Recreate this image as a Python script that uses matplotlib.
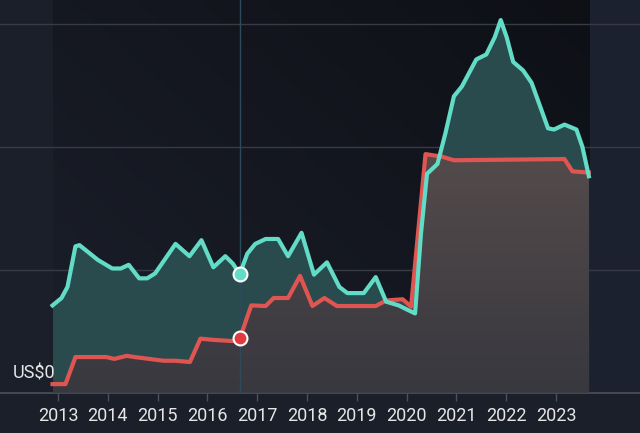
import numpy as np
import matplotlib.pyplot as plt
from matplotlib.colors import to_rgb

# teal series (upper line) - year, value
teal_x = [2012.89, 2013.07, 2013.19, 2013.35, 2013.43, 2013.80, 2014.09, 2014.26, 2014.42,
          2014.63, 2014.79, 2014.95, 2015.36, 2015.64, 2015.88, 2016.12, 2016.36, 2016.51,
          2016.65, 2016.80, 2016.96, 2017.17, 2017.42, 2017.62, 2017.89, 2018.14, 2018.40,
          2018.65, 2018.81, 2019.14, 2019.38, 2019.59, 2019.84, 2020.04, 2020.17, 2020.29,
          2020.41, 2020.62, 2020.78, 2020.95, 2021.11, 2021.40, 2021.60, 2021.77, 2021.89,
          2022.01, 2022.14, 2022.34, 2022.51, 2022.84, 2022.96, 2023.17, 2023.41, 2023.53,
          2023.66]
teal_y = [71, 77, 86, 119, 120, 108, 101, 101, 104,
          93, 93, 97, 121, 111, 124, 102, 111, 105,
          96.5, 113, 121, 125, 125, 111, 130, 96, 106,
          86, 81, 81, 94, 74, 71, 67, 64.5, 130,
          178, 186, 211, 241, 249, 271, 275, 289, 303,
          289, 269, 262, 252, 215, 214, 218, 214, 200,
          176]

# red series (lower line)
red_x = [2012.89, 2013.15, 2013.35, 2013.97, 2014.13, 2014.38, 2014.54, 2015.12, 2015.36,
         2015.65, 2015.86, 2016.10, 2016.51, 2016.65, 2016.88, 2017.17, 2017.33, 2017.62,
         2017.86, 2018.11, 2018.35, 2018.60, 2019.38, 2019.59, 2019.92, 2020.09, 2020.38,
         2020.70, 2020.95, 2023.17, 2023.33, 2023.66]
red_y = [7, 7, 29, 29, 27.5, 30, 29, 26, 26,
         25, 44, 43, 42, 44, 71, 70.5, 77, 77,
         95, 70.5, 77, 70.5, 70.5, 75, 76, 70, 194,
         192, 189, 190, 180, 179]

years = list(range(2013, 2024))
year_labels = [str(y) for y in years]
grid_vals = [100, 200, 300]
cursor_x = 2016.65
cursor_teal = 96.5
cursor_red = 44.2

TEAL = "#62dcc6"
RED = "#df5552"
BG = "#1a1f2a"

fig = plt.figure(figsize=(6.4, 4.33), dpi=100, facecolor=BG)
ax = fig.add_axes([0, 0.093, 1, 0.907])
ax.set_facecolor(BG)
x0, x1 = 2011.835, 2024.687
ymax = 319.3
ax.set_xlim(x0, x1)
ax.set_ylim(0, ymax)

# lighter panel to the right of the data
ax.axvspan(teal_x[-1], x1, color="#1c2130", zorder=0, lw=0)

# dark gradient behind the data
gx = np.linspace(0, 1, 200)
gy = np.linspace(0, 1, 200)
GX, GY = np.meshgrid(gx, gy)
w = np.clip(0.55 * GX + 0.45 * GY, 0, 1)[..., None]
c_light = np.array(to_rgb("#1b1f2a"))
c_dark = np.array(to_rgb("#0e1016"))
img = c_light * (1 - w) + c_dark * w
ax.imshow(img, extent=[teal_x[0], teal_x[-1], 0, ymax], origin="lower",
          aspect="auto", zorder=0.5, interpolation="bilinear")

for g in grid_vals:
    ax.axhline(g, color="#363b47", lw=1, zorder=1)

# teal area
poly = ax.fill_between(teal_x, teal_y, 0, color="#2a4b4d", lw=0, zorder=2)

# red area with vertical gradient
rp = ax.fill_between(red_x, red_y, 0, color="none", lw=0, zorder=3)
grad = np.linspace(0, 1, 256)[:, None, None]
r_bot = np.array(to_rgb("#38383f"))
r_top = np.array(to_rgb("#544b4b"))
rimg = r_bot * (1 - grad) + r_top * grad
rimg = np.repeat(rimg, 2, axis=1)
im = ax.imshow(rimg, extent=[red_x[0], red_x[-1], 0, 195], origin="lower",
               aspect="auto", zorder=3, interpolation="bilinear")
im.set_clip_path(rp.get_paths()[0], transform=ax.transData)

ax.axvline(cursor_x, color="#2e4a5a", lw=1, zorder=4)

ax.plot(red_x, red_y, color=RED, lw=3, zorder=5, solid_joinstyle="round")
ax.plot(teal_x, teal_y, color=TEAL, lw=3, zorder=6, solid_joinstyle="round")

ax.plot([cursor_x], [cursor_teal], "o", ms=10, mfc=TEAL, mec="white", mew=1.5, zorder=7)
ax.plot([cursor_x], [cursor_red], "o", ms=10, mfc="#e03a3e", mec="white", mew=1.5, zorder=7)

for s in ["top", "left", "right"]:
    ax.spines[s].set_visible(False)
ax.spines["bottom"].set_color("#4a505c")
ax.spines["bottom"].set_linewidth(1.2)

ax.set_yticks([])
ax.set_xticks(years)
ax.set_xticklabels(year_labels, fontfamily="Roboto", fontsize=13, color="#e6e6e6")
ax.tick_params(axis="x", direction="out", length=6, width=1, color="#4a505c", pad=4)

ax.text(0.086, 16, "US$0", transform=ax.get_yaxis_transform(), ha="right", va="center",
        fontfamily="Roboto", fontsize=13, color="#e6e6e6", zorder=8)

fig.savefig("out.png", dpi=100, facecolor=BG)
